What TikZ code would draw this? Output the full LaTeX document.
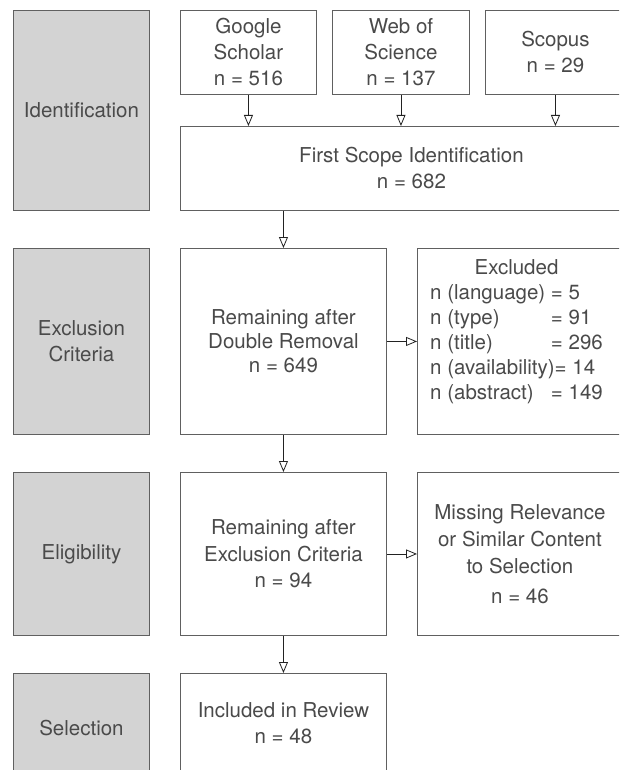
\documentclass[tikz,border=0pt]{standalone}
\usepackage{fontspec}
\setmainfont{TeX Gyre Heros}
\usetikzlibrary{arrows.meta,calc}
\definecolor{phasefill}{HTML}{D3D3D3}
\definecolor{boxline}{HTML}{606060}
\definecolor{txt}{HTML}{4A4A4A}
\definecolor{arr}{HTML}{222222}
\begin{document}
\begin{tikzpicture}[x=1pt,y=1pt,
 box/.style={draw=boxline, line width=0.9pt, fill=white, inner sep=0pt, anchor=north west, align=center, text=txt, font=\fontsize{20.5}{26}\selectfont},
 phase/.style={box, fill=phasefill},
 flow/.style={draw=arr, line width=0.8pt, -{Triangle[open, length=11pt, width=9pt, fill=white]}}
]
\useasboundingbox (0,0) rectangle (619,-770);
\clip (0,0) rectangle (619,-770);
\fill[white] (0,0) rectangle (619,-770);

\node[phase, minimum width=136, minimum height=200] (pid) at (13,-10) {Identification};
\node[phase, minimum width=136, minimum height=186] (pex) at (13,-248) {Exclusion\\Criteria};
\node[phase, minimum width=136, minimum height=163] (pel) at (13,-472) {Eligibility};
\node[phase, minimum width=136, minimum height=110] (psel) at (13,-673) {Selection};

\node[box, minimum width=136, minimum height=84] (gs) at (180,-10) {Google\\Scholar\\n = 516};
\node[box, minimum width=137, minimum height=84] (ws) at (332,-10) {Web of\\Science\\n = 137};
\node[box, minimum width=140, minimum height=84] (sc) at (485,-10) {Scopus\\n = 29};
\node[box, minimum width=462, minimum height=84] (fs) at (180,-126) {First Scope Identification\\n = 682};

\node[box, minimum width=206, minimum height=186, font=\fontsize{20.5}{24}\selectfont] (r1) at (180,-248) {Remaining after\\Double Removal\\n = 649};
\node[box, minimum width=212, minimum height=186] (exc) at (417,-248) {};
\node[anchor=north west, inner sep=0pt, text=txt, font=\fontsize{20.5}{25}\selectfont] (exct) at (430,-257)
 {\begin{tabular}{@{}l@{\ }l@{}}
 \multicolumn{2}{c}{Excluded}\\
 n (language) & = 5\\
 n (type) & = 91\\
 n (title) & = 296\\
 \multicolumn{2}{@{}l@{}}{n (availability)= 14}\\
 n (abstract) & = 149
 \end{tabular}};

\node[box, minimum width=206, minimum height=163, font=\fontsize{20.5}{26.5}\selectfont] (r2) at (180,-472) {Remaining after\\Exclusion Criteria\\n = 94};
\node[box, minimum width=205, minimum height=163, font=\fontsize{20.5}{27}\selectfont] (mis) at (417,-472) {Missing Relevance\\or Similar Content\\to Selection\\[3pt]n = 46};

\node[box, minimum width=206, minimum height=100] (inc) at (180,-673) {Included in Review\\n = 48};

\draw[flow] (gs.south) -- (gs.south |- fs.north);
\draw[flow] (ws.south) -- (ws.south |- fs.north);
\draw[flow] (sc.south) -- (sc.south |- fs.north);
\draw[flow] (fs.south -| r1.north) -- (r1.north);
\draw[flow] (r1.east) -- (r1.east -| exc.west);
\draw[flow] (r1.south) -- (r2.north);
\draw[flow] (r2.east) -- (r2.east -| mis.west);
\draw[flow] (r2.south) -- (inc.north);
\end{tikzpicture}
\end{document}
